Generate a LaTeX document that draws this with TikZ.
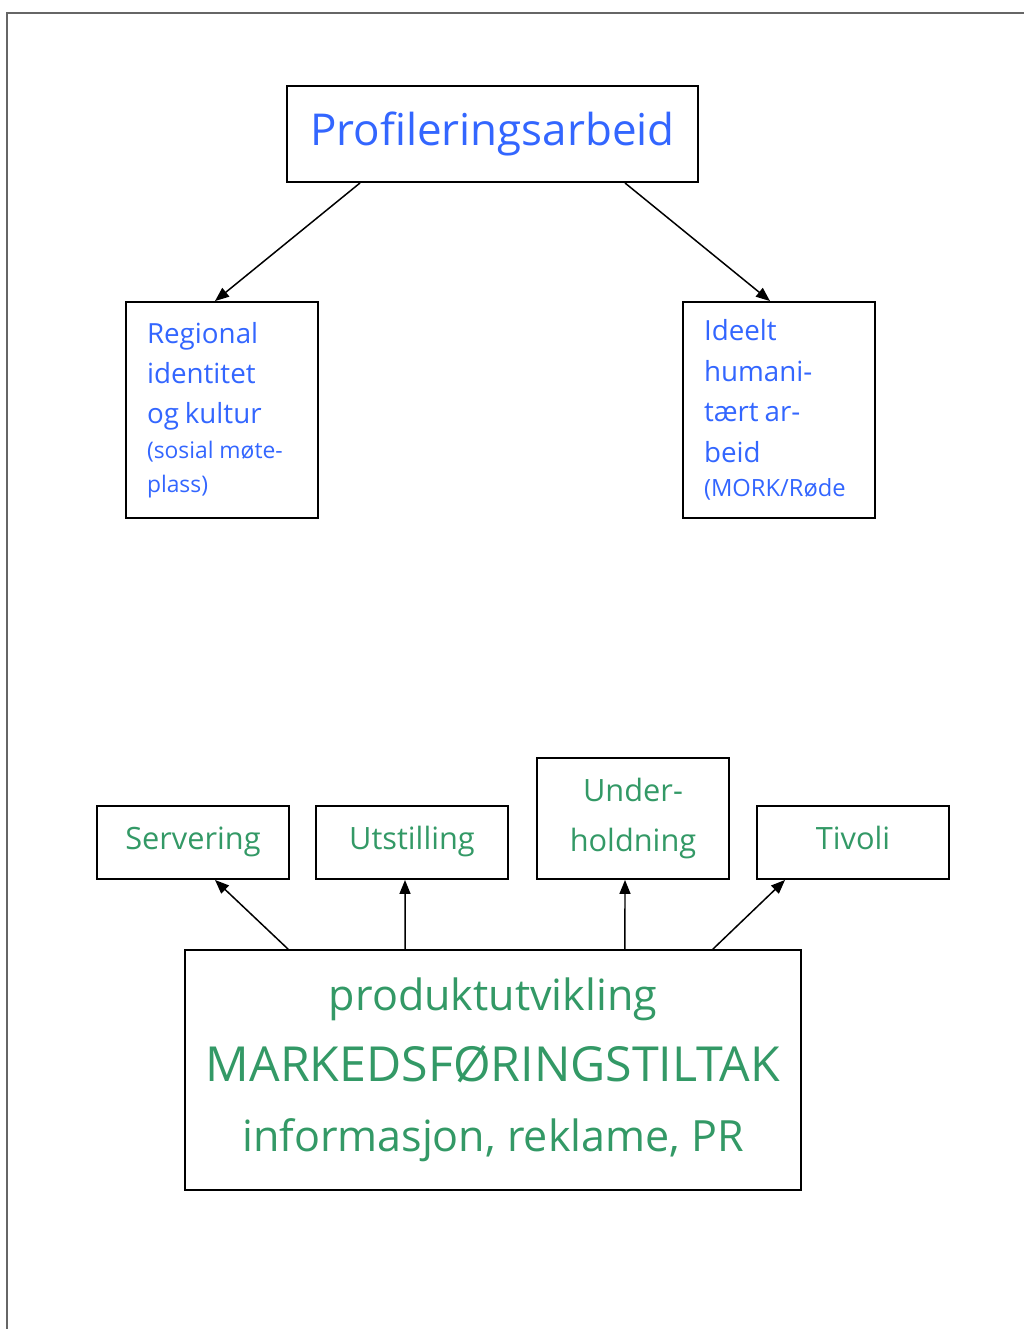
\documentclass[tikz,border=0pt]{standalone}
\usepackage{fontspec}
\setmainfont{Open Sans}
\usetikzlibrary{arrows.meta}
\definecolor{profblue}{RGB}{51,102,255}
\definecolor{markgreen}{RGB}{51,153,102}

\begin{document}
\begin{tikzpicture}[x=0.02cm,y=-0.02cm,
  box/.style={draw,line width=1.1pt,inner sep=0pt},
  tallbox/.style={box,minimum width=3.84cm,minimum height=4.32cm,
    text width=3cm,inner xsep=0.42cm,align=left,text=profblue},
  smallbox/.style={box,minimum width=3.84cm,minimum height=1.46cm,
    align=center,text=markgreen,font=\fontsize{17.5}{28}\selectfont},
  oneline/.style={smallbox,text height=13pt,text depth=4.5pt},
  link/.style={line width=0.85pt,-{Triangle[length=0.28cm,width=0.22cm]}}]
  \useasboundingbox (0,0) rectangle (1024,1329);
  % page edge
  \draw[line width=1.1pt,black!60] (7,1329) -- (7,13) -- (1024,13);

  % top
  \node[box,minimum width=8.22cm,minimum height=1.92cm,text=profblue,
    font=\fontsize{25}{30}\selectfont] (prof) at (492.5,134) {Profileringsarbeid};
  \node[tallbox] (regional) at (222,410)
    {{\fontsize{15.8}{23}\selectfont Regional\\ identitet\\ og kultur\par}
     {\fontsize{13}{19.5}\selectfont (sosial møte-\\ plass)\par}};
  \node[tallbox] (ideelt) at (779,410)
    {{\fontsize{15.8}{23}\selectfont Ideelt\\ humani-\\ tært ar-\\ beid\par}
     {\fontsize{13.5}{19.5}\selectfont (MORK/Røde\par}};
  %arrows
  \draw[link] ([xshift=-2.65cm]prof.south) -- ([xshift=-0.14cm]regional.north);
  \draw[link] ([xshift=2.65cm]prof.south) -- ([xshift=-0.18cm]ideelt.north);

  % bottom
  \node[box,minimum width=12.32cm,minimum height=4.8cm,align=center,
    text=markgreen,font=\fontsize{24.5}{40}\selectfont] (tiltak) at (493,1070)
    {produktutvikling\\ {\fontsize{27.5}{40}\selectfont MARKEDSFØRINGSTILTAK}\\
     informasjon, reklame, PR};
  \node[oneline] (servering) at (193,842.5) {Servering};
  \node[oneline] (utstilling) at (412,842.5) {Utstilling};
  \node[smallbox,minimum height=2.42cm] (underholdning) at (633,818.5) {Under-\\ holdning};
  \node[oneline] (tivoli) at (853,842.5) {Tivoli};
  %arrows
  \draw[link] ([xshift=-4.1cm]tiltak.north) -- ([xshift=0.44cm]servering.south);
  \draw[link] ([xshift=-1.76cm]tiltak.north) -- ([xshift=-0.14cm]utstilling.south);
  \draw[link] ([xshift=2.64cm]tiltak.north) -- ([xshift=-0.16cm]underholdning.south);
  \draw[link] ([xshift=4.4cm]tiltak.north) -- ([xshift=-1.36cm]tivoli.south);
\end{tikzpicture}
\end{document}
